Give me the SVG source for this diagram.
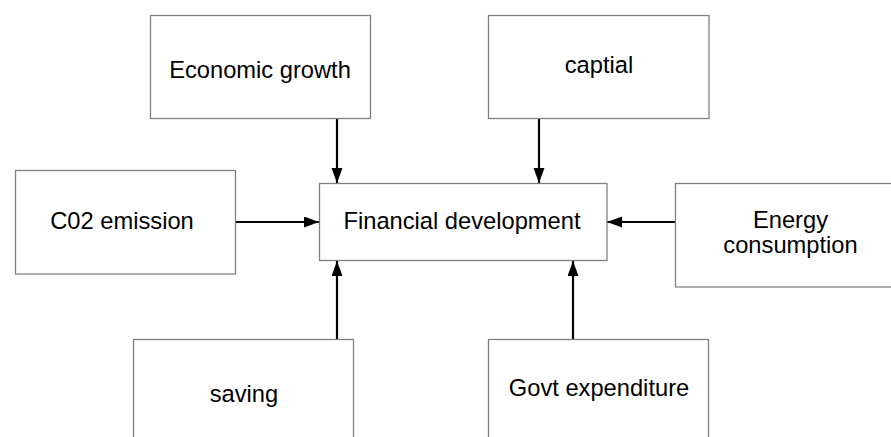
<svg xmlns="http://www.w3.org/2000/svg" width="891" height="437" viewBox="0 0 891 437">
  <style>
    .box { fill: #ffffff; stroke: #808080; stroke-width: 1.3; }
    .lbl { font-family: "Liberation Sans", Arial, sans-serif; font-size: 23.7px; fill: #000000; text-anchor: middle; }
    .edge { stroke: #000000; stroke-width: 2.2; fill: none; marker-end: url(#head); }
  </style>
  <defs>
    <marker id="head" markerUnits="userSpaceOnUse" markerWidth="16" markerHeight="12" refX="15" refY="5.5" orient="auto">
      <path d="M0,0 L15,5.5 L0,11 Z" fill="#000000"/>
    </marker>
  </defs>
  <rect width="891" height="437" fill="#ffffff"/>

  <g id="connectors">
    <line class="edge" x1="337" y1="118" x2="337" y2="183"/>
    <line class="edge" x1="539" y1="118" x2="539" y2="183"/>
    <line class="edge" x1="235" y1="222" x2="319" y2="222"/>
    <line class="edge" x1="675" y1="222" x2="607" y2="222"/>
    <line class="edge" x1="337" y1="339" x2="337" y2="261"/>
    <line class="edge" x1="573" y1="339" x2="573" y2="261"/>
  </g>

  <g id="financial-development">
    <rect class="box" x="319.5" y="183.5" width="287.5" height="77"/>
    <text class="lbl" x="462" y="229">Financial development</text>
  </g>

  <g id="economic-growth">
    <rect class="box" x="150.5" y="15.5" width="220" height="103"/>
    <text class="lbl" x="260" y="78">Economic growth</text>
  </g>

  <g id="captial">
    <rect class="box" x="488.5" y="15.5" width="220.5" height="103"/>
    <text class="lbl" x="599" y="73">captial</text>
  </g>

  <g id="co2-emission">
    <rect class="box" x="15.5" y="170.5" width="220" height="103.5"/>
    <text class="lbl" x="122" y="229">C02 emission</text>
  </g>

  <g id="energy-consumption">
    <rect class="box" x="675.5" y="183.5" width="232" height="103.5"/>
    <text class="lbl" x="790.5" y="228">Energy</text>
    <text class="lbl" x="790.5" y="253">consumption</text>
  </g>

  <g id="saving">
    <rect class="box" x="133.5" y="339.5" width="220" height="110"/>
    <text class="lbl" x="244" y="402">saving</text>
  </g>

  <g id="govt-expenditure">
    <rect class="box" x="488.5" y="339.5" width="220" height="110"/>
    <text class="lbl" x="599" y="396">Govt expenditure</text>
  </g>
</svg>
